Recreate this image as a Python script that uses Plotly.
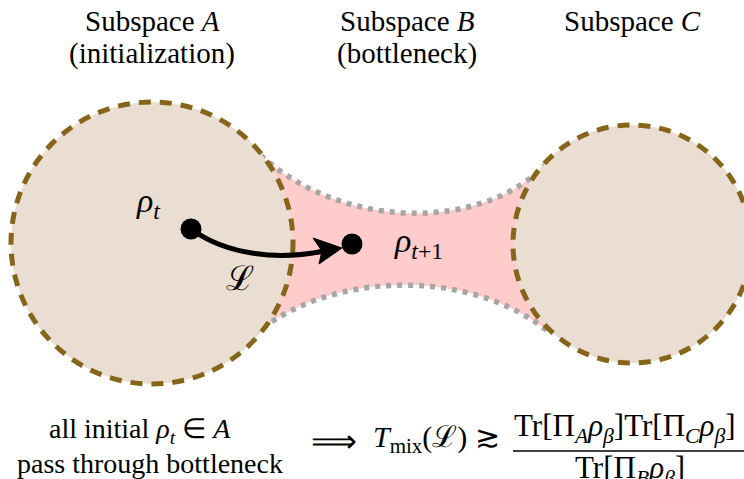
import plotly.graph_objects as go

# ---- diagram data (pixel-like coordinate system: x right, y down) ----
region_names = ["A", "B", "C"]
circle_cx = [152, 632]
circle_cy = [243, 244]
circle_r = [141, 119]

# bottleneck boundary curves (cubic Bezier control points)
top_curve = [(245, 140), (330, 233), (480, 233), (545, 165)]
bottom_curve = [(263, 328), (340, 270), (475, 270), (550, 333)]

# states
state_x = [191, 352]
state_y = [229, 244]
state_labels = ["<i>ρ<sub>t</sub></i>", "<i>ρ</i><sub><i>t</i>+1</sub>"]

# arrow (Lindbladian step)
arrow_curve = [(191, 229), (228, 256), (280, 260), (324, 251)]
arrow_head = [(342, 248), (313, 238), (322, 251), (319, 264)]

header_lines = [["Subspace <i>A</i>", "(initialization)"],
                ["Subspace <i>B</i>", "(bottleneck)"],
                ["Subspace <i>C</i>", ""]]
header_x = [152, 407, 632]

FONT = "Liberation Serif, Times New Roman, serif"
BROWN = "#86651A"
GRAY = "#A6A6A6"
PINK = "#FFCCCC"
BEIGE = "#E9DED1"


def bez(pts):
    (a, b), (c, d), (e, f), (g, h) = pts
    return f"M {a},{b} C {c},{d} {e},{f} {g},{h}"


def bez_rev(pts):
    (a, b), (c, d), (e, f), (g, h) = pts
    return f"L {g},{h} C {e},{f} {c},{d} {a},{b}"


fig = go.Figure()
shapes = []

# pink bottleneck region
pink_path = bez(top_curve) + " " + bez_rev(bottom_curve) + " Z"
shapes.append(dict(type="path", path=pink_path, fillcolor=PINK, line=dict(width=0)))
# dotted boundaries
for cv in (top_curve, bottom_curve):
    shapes.append(dict(type="path", path=bez(cv), line=dict(color=GRAY, width=5.5, dash="5px,6px")))
# circles A and C
for cx, cy, r in zip(circle_cx, circle_cy, circle_r):
    shapes.append(dict(type="circle", x0=cx - r, x1=cx + r, y0=cy - r, y1=cy + r,
                       fillcolor=BEIGE, line=dict(color=BROWN, width=5, dash="12px,9px")))
# arrow
shapes.append(dict(type="path", path=bez(arrow_curve), line=dict(color="black", width=5)))
ah = arrow_head
shapes.append(dict(type="path",
                   path=f"M {ah[0][0]},{ah[0][1]} L {ah[1][0]},{ah[1][1]} L {ah[2][0]},{ah[2][1]} L {ah[3][0]},{ah[3][1]} Z",
                   fillcolor="black", line=dict(color="black", width=1)))
# fraction bar
shapes.append(dict(type="line", x0=513, x1=760, y0=451, y1=451, line=dict(color="black", width=1.5)))
for s in shapes:
    s.update(layer="below", xref="x", yref="y")

fig.add_trace(go.Scatter(x=state_x, y=state_y, mode="markers",
                         marker=dict(size=21, color="black"), hoverinfo="skip", cliponaxis=False))

ann = []
for x, (l1, l2) in zip(header_x, header_lines):
    ann.append(dict(x=x, y=21, text=l1, font=dict(size=29)))
    if l2:
        ann.append(dict(x=x, y=53, text=l2, font=dict(size=29)))

ann.append(dict(x=148, y=203, text=state_labels[0], font=dict(size=34)))
ann.append(dict(x=418, y=243, text=state_labels[1], font=dict(size=34)))
ann.append(dict(x=240, y=278, text="ℒ", font=dict(size=34)))

ann.append(dict(x=140, y=430, text="all initial <i>ρ<sub>t</sub></i> ∈ <i>A</i>", font=dict(size=28)))
ann.append(dict(x=150, y=463, text="pass through bottleneck", font=dict(size=28)))
ann.append(dict(x=334, y=441, text="⟹", font=dict(size=32)))
ann.append(dict(x=371, y=439, text="<i>T</i><sub>mix</sub>(ℒ) ≳", font=dict(size=30), xanchor="left"))
ann.append(dict(x=512, y=428, text="Tr[Π<sub><i>A</i></sub><i>ρ</i><sub><i>β</i></sub>]Tr[Π<sub><i>C</i></sub><i>ρ</i><sub><i>β</i></sub>]",
                font=dict(size=31), xanchor="left"))
ann.append(dict(x=630, y=470, text="Tr[Π<sub><i>B</i></sub><i>ρ</i><sub><i>β</i></sub>]", font=dict(size=31)))

for a in ann:
    a.setdefault("xanchor", "center")
    a.update(xref="x", yref="y", showarrow=False, yanchor="middle")
    a["font"].update(family=FONT, color="black")

fig.update_layout(
    width=744, height=479, margin=dict(l=0, r=0, t=0, b=0),
    paper_bgcolor="white", plot_bgcolor="white", showlegend=False,
    font=dict(family=FONT, color="black"),
    shapes=shapes, annotations=ann,
    xaxis=dict(range=[0, 744], visible=False, fixedrange=True),
    yaxis=dict(range=[479, 0], visible=False, fixedrange=True),
)
fig.write_html("out.html", config={"displayModeBar": False},
               post_script="document.body.style.margin='0';")
